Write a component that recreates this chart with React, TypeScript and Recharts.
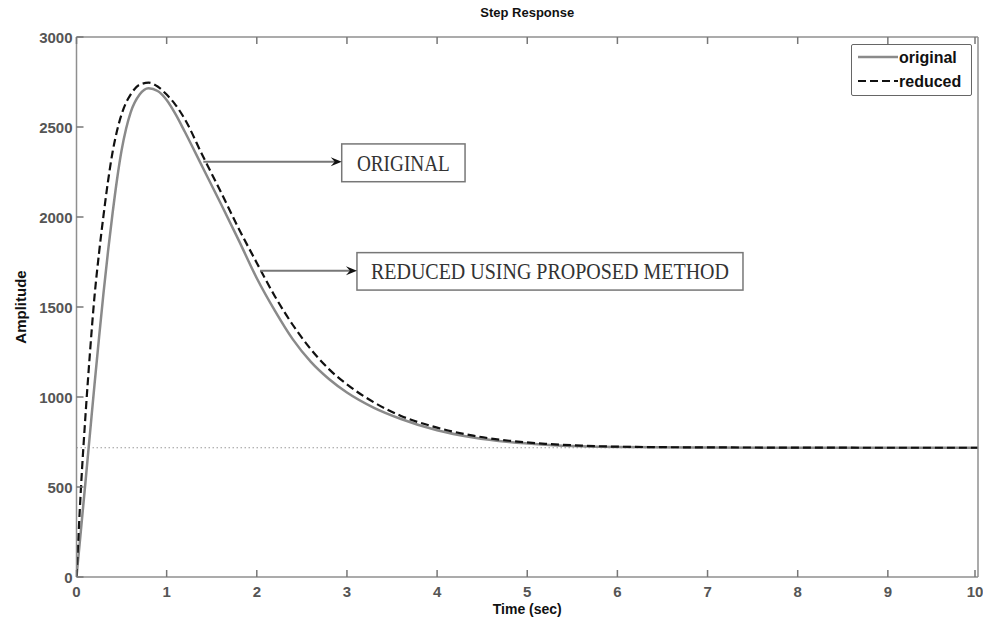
import React from "react";
import {
  LineChart,
  Line,
  XAxis,
  YAxis,
  Legend,
  ReferenceLine,
  ReferenceArea,
} from "recharts";

// time axis (sec) and the two step responses
const times = [
  0, 0.05, 0.1, 0.15, 0.2, 0.25, 0.3, 0.35, 0.4, 0.45, 0.5, 0.55, 0.6, 0.7,
  0.8, 0.9, 1.0, 1.1, 1.2, 1.4, 1.6, 1.8, 2.0, 2.2, 2.4, 2.6, 2.8, 3.0, 3.3,
  3.6, 4.0, 4.4, 4.8, 5.2, 5.6, 6.0, 7, 8, 9, 10,
];
const originalValues = [
  0, 265, 530, 800, 1070, 1330, 1580, 1810, 2020, 2210, 2370, 2490, 2580,
  2680, 2715, 2700, 2650, 2570, 2475, 2275, 2075, 1870, 1660, 1480, 1320,
  1195, 1100, 1025, 940, 878, 815, 775, 750, 735, 726, 722, 719, 718, 718,
  718,
];
const reducedValues = [
  0, 500, 900, 1250, 1560, 1800, 2010, 2200, 2360, 2480, 2570, 2635, 2680,
  2735, 2746, 2725, 2680, 2622, 2545, 2340, 2140, 1935, 1745, 1560, 1400,
  1265, 1155, 1070, 970, 895, 830, 785, 757, 740, 730, 724, 720, 719, 718,
  718,
];
const steadyState = 718;
const xTicks = [0, 1, 2, 3, 4, 5, 6, 7, 8, 9, 10];
const yTicks = [0, 500, 1000, 1500, 2000, 2500, 3000];

const data = times.map((t, i) => ({
  t,
  original: originalValues[i],
  reduced: reducedValues[i],
}));

const AXIS = "#8f8f8f";
const TICK_TEXT = "#555";
const SANS = "'Liberation Sans', Arial, sans-serif";
const SERIF = "'Liberation Serif', 'Times New Roman', serif";
const TICK_LEN = 7;

const BottomTick = ({ x, y, payload }: any) => (
  <g>
    <line x1={x} y1={y} x2={x} y2={y - TICK_LEN} stroke="#777" strokeWidth={1.5} />
    <text x={x} y={y + 20} textAnchor="middle" fontFamily={SANS} fontWeight="bold" fontSize={15} fill={TICK_TEXT}>
      {payload.value}
    </text>
  </g>
);
const TopTick = ({ x, y }: any) => (
  <line x1={x} y1={y} x2={x} y2={y + TICK_LEN} stroke="#777" strokeWidth={1.5} />
);
const LeftTick = ({ x, y, payload }: any) => (
  <g>
    <line x1={x} y1={y} x2={x + TICK_LEN} y2={y} stroke="#777" strokeWidth={1.5} />
    <text x={x - 4} y={y + 5.5} textAnchor="end" fontFamily={SANS} fontWeight="bold" fontSize={15} fill={TICK_TEXT}>
      {payload.value}
    </text>
  </g>
);
const RightTick = ({ x, y }: any) => (
  <line x1={x} y1={y} x2={x - TICK_LEN} y2={y} stroke="#777" strokeWidth={1.5} />
);

const Arrow = (p: any) => {
  const { x1, y1, x2 } = p;
  return (
    <g>
      <line x1={x1} y1={y1} x2={x2 - 6} y2={y1} stroke="#777" strokeWidth={2} />
      <path d={`M${x2},${y1} L${x2 - 11},${y1 - 4.5} L${x2 - 7},${y1} L${x2 - 11},${y1 + 4.5} Z`} fill="#111" />
    </g>
  );
};

const textBox = (label: string, textWidth: number) => (p: any) => {
  const { x, y, width, height } = p;
  return (
    <g>
      <rect x={x} y={y} width={width} height={height} fill="#fff" stroke="#777" strokeWidth={1.5} />
      <text
        x={x + width / 2}
        y={y + height / 2 + 7.8}
        textAnchor="middle"
        fontFamily={SERIF}
        fontSize={23}
        fill="#333"
        textLength={textWidth}
        lengthAdjust="spacingAndGlyphs"
      >
        {label}
      </text>
    </g>
  );
};

const renderLegend = ({ payload }: any) => (
  <div style={{ width: 121, height: 52, border: "1.5px solid #666", borderRadius: 2, background: "#fff", boxSizing: "border-box" }}>
    <svg width={118} height={49}>
      {(payload || []).map((entry: any, i: number) => {
        const cy = 12 + i * 24;
        return (
          <g key={entry.value}>
            <line
              x1={6}
              y1={cy}
              x2={46}
              y2={cy}
              stroke={entry.color}
              strokeWidth={entry.payload?.strokeWidth || 2}
              strokeDasharray={entry.payload?.strokeDasharray}
            />
            <text x={47} y={cy + 5.5} fontFamily={SANS} fontWeight="bold" fontSize={16} fill="#111">
              {entry.value}
            </text>
          </g>
        );
      })}
    </svg>
  </div>
);

export default function App() {
  return (
    <div style={{ position: "absolute", left: 0, top: 0, background: "#fff" }}>
      <LineChart width={983} height={625} data={data} margin={{ top: 36, right: 4, left: 16.5, bottom: 18 }}>
        <XAxis
          dataKey="t"
          type="number"
          domain={[0, 10]}
          ticks={xTicks}
          allowDataOverflow
          height={30}
          tickSize={0}
          tickMargin={0}
          stroke={AXIS}
          strokeWidth={1.5}
          tick={<BottomTick />}
          label={(p: any) => (
            <text
              x={p.viewBox.x + p.viewBox.width / 2}
              y={p.viewBox.y + 37}
              textAnchor="middle"
              fontFamily={SANS}
              fontWeight="bold"
              fontSize={14}
              fill="#111"
            >
              Time (sec)
            </text>
          )}
        />
        <XAxis
          xAxisId="top"
          orientation="top"
          type="number"
          dataKey="t"
          domain={[0, 10]}
          ticks={xTicks}
          height={1}
          tickSize={0}
          tickMargin={0}
          stroke={AXIS}
          strokeWidth={1.5}
          tick={<TopTick />}
          label={(p: any) => (
            <text
              x={p.viewBox.x + p.viewBox.width / 2}
              y={p.viewBox.y - 19}
              textAnchor="middle"
              fontFamily={SANS}
              fontWeight="bold"
              fontSize={13}
              fill="#111"
            >
              Step Response
            </text>
          )}
        />
        <YAxis
          type="number"
          domain={[0, 3000]}
          ticks={yTicks}
          width={60}
          tickSize={0}
          tickMargin={0}
          stroke={AXIS}
          strokeWidth={1.5}
          tick={<LeftTick />}
          label={(p: any) => {
            const cx = 20;
            const cy = p.viewBox.y + p.viewBox.height / 2;
            return (
              <text
                x={cx}
                y={cy}
                transform={`rotate(-90 ${cx} ${cy})`}
                textAnchor="middle"
                dominantBaseline="central"
                fontFamily={SANS}
                fontWeight="bold"
                fontSize={15}
                fill="#111"
              >
                Amplitude
              </text>
            );
          }}
        />
        <YAxis
          yAxisId="right"
          orientation="right"
          type="number"
          domain={[0, 3000]}
          ticks={yTicks}
          width={1}
          tickSize={0}
          tickMargin={0}
          stroke={AXIS}
          strokeWidth={1.5}
          tick={<RightTick />}
        />
        <ReferenceLine y={steadyState} stroke="#9a9a9a" strokeWidth={1.2} strokeDasharray="1.5 2.5" />
        <Line
          dataKey="original"
          name="original"
          type="monotone"
          stroke="#8a8a8a"
          strokeWidth={2.5}
          dot={false}
          isAnimationActive={false}
        />
        <Line
          dataKey="reduced"
          name="reduced"
          type="monotone"
          stroke="#111"
          strokeWidth={2.2}
          strokeDasharray="8 4"
          dot={false}
          isAnimationActive={false}
        />
        <ReferenceLine segment={[{ x: 1.407, y: 2307 }, { x: 2.942, y: 2307 }]} shape={Arrow} />
        <ReferenceLine segment={[{ x: 2.036, y: 1702 }, { x: 3.111, y: 1702 }]} shape={Arrow} />
        <ReferenceArea x1={2.942} x2={4.31} y1={2196} y2={2406} shape={textBox("ORIGINAL", 93)} />
        <ReferenceArea x1={3.111} x2={7.393} y1={1594} y2={1802} shape={textBox("REDUCED USING PROPOSED METHOD", 358)} />
        <Legend
          layout="horizontal"
          verticalAlign="middle"
          align="center"
          content={renderLegend}
          wrapperStyle={{ top: 44, left: 851, width: 121, height: 52 }}
        />
      </LineChart>
    </div>
  );
}
